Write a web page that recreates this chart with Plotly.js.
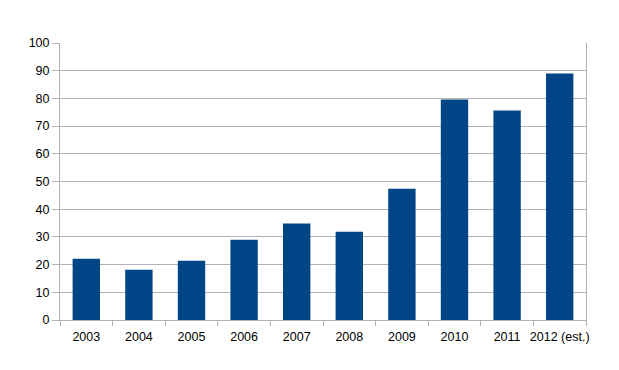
<!DOCTYPE html>
<html><head><meta charset="utf-8">
<script src="https://cdn.plot.ly/plotly-3.0.1.min.js"></script>
<style>body{margin:0;padding:0;background:#fff}#chart{width:619px;height:370px}</style>
</head><body><div id="chart"></div>
<script>
const years = ["2003","2004","2005","2006","2007","2008","2009","2010","2011","2012 (est.)"];
const values = [22.1, 18.1, 21.4, 29, 34.8, 31.9, 47.4, 79.6, 75.6, 89];
const yTicks = [0,10,20,30,40,50,60,70,80,90,100];

Plotly.newPlot('chart', [{
  type: 'bar', x: years, y: values,
  marker: {color: '#004586', line: {width: 0}},
  hoverinfo: 'none'
}], {
  width: 619, height: 370,
  margin: {l: 60, r: 33, t: 43, b: 50, pad: 0},
  paper_bgcolor: '#fff', plot_bgcolor: '#fff',
  bargap: 0.48,
  showlegend: false,
  font: {family: 'Liberation Sans, Arial, sans-serif', size: 12, color: '#000'},
  xaxis: {
    type: 'category', showgrid: false, showline: true, linecolor: '#b3b3b3', linewidth: 1,
    ticks: 'outside', tickson: 'boundaries', ticklen: 5, tickcolor: '#b3b3b3', tickangle: 0,
    ticklabelstandoff: 5,
    tickfont: {size: 12.5, color: '#000'}, zeroline: false, fixedrange: true
  },
  yaxis: {
    range: [0, 100], tickvals: yTicks, showgrid: true, gridcolor: '#b3b3b3', gridwidth: 1,
    showline: true, linecolor: '#b3b3b3', linewidth: 1, mirror: true,
    ticks: 'outside', ticklen: 7, tickcolor: '#b3b3b3',
    tickfont: {size: 12.5, color: '#000'}, zeroline: false, fixedrange: true
  }
}, {displayModeBar: false, staticPlot: true});
</script></body></html>
